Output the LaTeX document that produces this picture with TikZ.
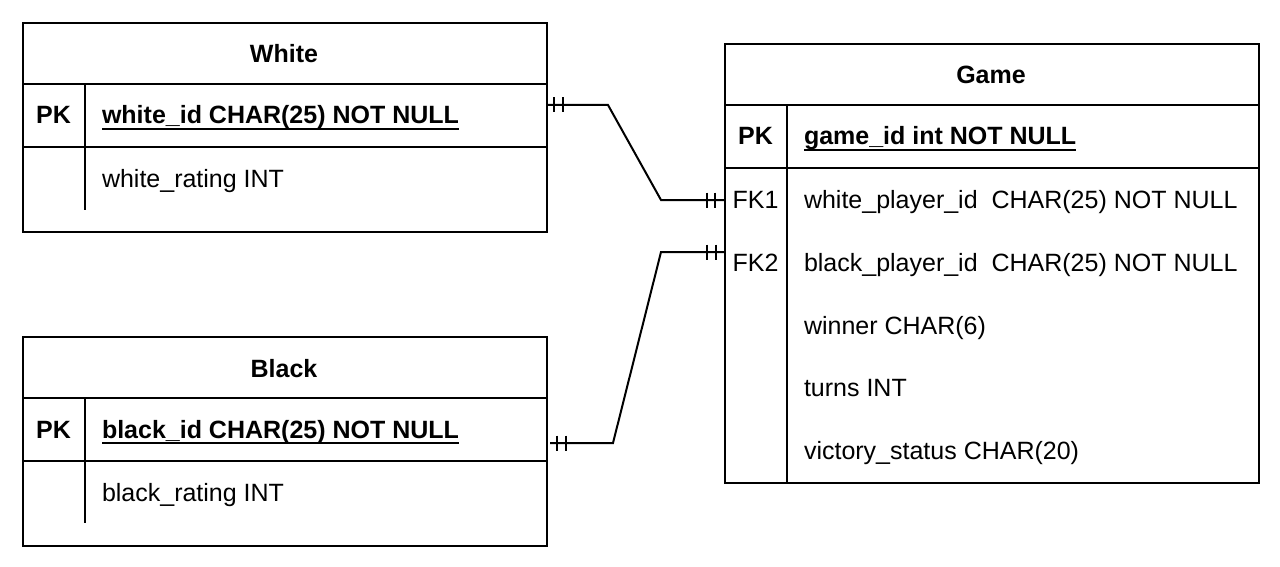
\documentclass[tikz,border=0pt]{standalone}
\usepackage{fontspec}
\setmainfont{Liberation Sans}
\newcommand\myul[1]{\setbox0\hbox{#1}\rlap{\rule[-6pt]{\wd0}{2pt}}\box0}
\begin{document}
\begin{tikzpicture}[x=1pt,y=-1pt,line width=2pt,
  every node/.style={font=\fontsize{25}{30}\selectfont, inner sep=0pt},
  tbl/.style={draw, anchor=north west, minimum width=#1},
  ttl/.style={font=\fontsize{25}{30}\selectfont\bfseries, anchor=base},
  key/.style={anchor=base},
  fld/.style={anchor=base west},
  tick/.style={line width=1.8pt}]
\useasboundingbox (0,0) rectangle (1280,567);
% White table
\node[tbl=524pt, minimum height=209pt] (white) at (22,22) {};
\draw (22,84) -- (546,84);
\draw (22,147) -- (546,147);
\draw (85,84) -- (85,210);
\node[ttl] (wt) at (284,63) {White};
\node[ttl] (wpk) at (53.5,124) {PK};
\node[fld,font=\fontsize{25}{30}\selectfont\bfseries] (wid) at (101,124) {\myul{white\_id CHAR(25) NOT NULL}};
\node[fld] (wr) at (101,187.5) {white\_rating INT};
% Black table
\node[tbl=524pt, minimum height=209pt] (black) at (22,336) {};
\draw (22,398) -- (546,398);
\draw (22,461) -- (546,461);
\draw (85,398) -- (85,523);
\node[ttl] (bt) at (284,377) {Black};
\node[ttl] (bpk) at (53.5,438) {PK};
\node[fld,font=\fontsize{25}{30}\selectfont\bfseries] (bid) at (101,438) {\myul{black\_id CHAR(25) NOT NULL}};
\node[fld] (br) at (101,501.5) {black\_rating INT};
% Game table
\node[tbl=534pt, minimum height=439pt] (game) at (724,43) {};
\draw (724,105) -- (1258,105);
\draw (724,168) -- (1258,168);
\draw (787,105) -- (787,482);
\node[ttl] (gt) at (991,84) {Game};
\node[ttl] (gpk) at (755.5,145) {PK};
\node[fld,font=\fontsize{25}{30}\selectfont\bfseries] (gid) at (803,145) {\myul{game\_id int NOT NULL}};
\node[key] (fk1) at (755.5,208.5) {FK1};
\node[fld] (f1) at (803,208.5) {white\_player\_id\ \ CHAR(25) NOT NULL};
\node[key] (fk2) at (755.5,271.5) {FK2};
\node[fld] (f2) at (803,271.5) {black\_player\_id\ \ CHAR(25) NOT NULL};
\node[fld] (f3) at (803,334.5) {winner CHAR(6)};
\node[fld] (f4) at (803,396.5) {turns INT};
\node[fld] (f5) at (803,459.5) {victory\_status CHAR(20)};
% connectors
\coordinate (ws) at (546,105);
\coordinate (we) at (724,200);
\coordinate (bs) at (550,443);
\coordinate (be) at (724,252);
\draw (ws) -- (608,105) -- (661,200) -- (we);
\draw (bs) -- (613,443) -- (661,252) -- (be);
\foreach \c/\d in {ws/8, ws/17, bs/7, bs/16, we/-17, we/-9, be/-17, be/-8}
  \draw[tick] ([xshift=\d pt]\c) ++(0,-7.5) -- ++(0,15);
\end{tikzpicture}
\end{document}
